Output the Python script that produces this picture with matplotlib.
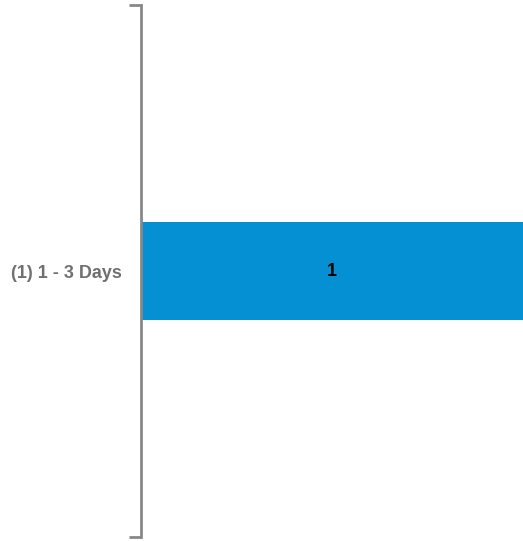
import matplotlib.pyplot as plt

categories = ['(1) 1 - 3 Days']
values = [1]

fig = plt.figure(figsize=(5.23, 5.41), dpi=100)
ax = fig.add_axes([141/523, 4/541, 1 - 141/523, 532/541])

ax.barh(range(len(categories)), values, height=0.186, color='#0590d3')
for i, v in enumerate(values):
    ax.text(v / 2, i, str(v), ha='center', va='center', fontsize=13,
            fontweight='bold', color='black', family='Liberation Sans')

ax.set_xlim(0, max(values))
ax.set_ylim(-0.5, len(categories) - 0.5)

ax.set_yticks(range(len(categories)))
ax.set_yticklabels(categories, fontsize=13, fontweight='bold', color='#707070',
                   family='Liberation Sans')
ax.tick_params(axis='y', which='major', length=0, pad=14)
ax.set_yticks([-0.5, len(categories) - 0.5], minor=True)
ax.tick_params(axis='y', which='minor', length=9, width=2, color='#888888')
ax.set_xticks([])

for s in ['top', 'right', 'bottom']:
    ax.spines[s].set_visible(False)
ax.spines['left'].set_color('#888888')
ax.spines['left'].set_linewidth(2)

fig.savefig('out.png')
